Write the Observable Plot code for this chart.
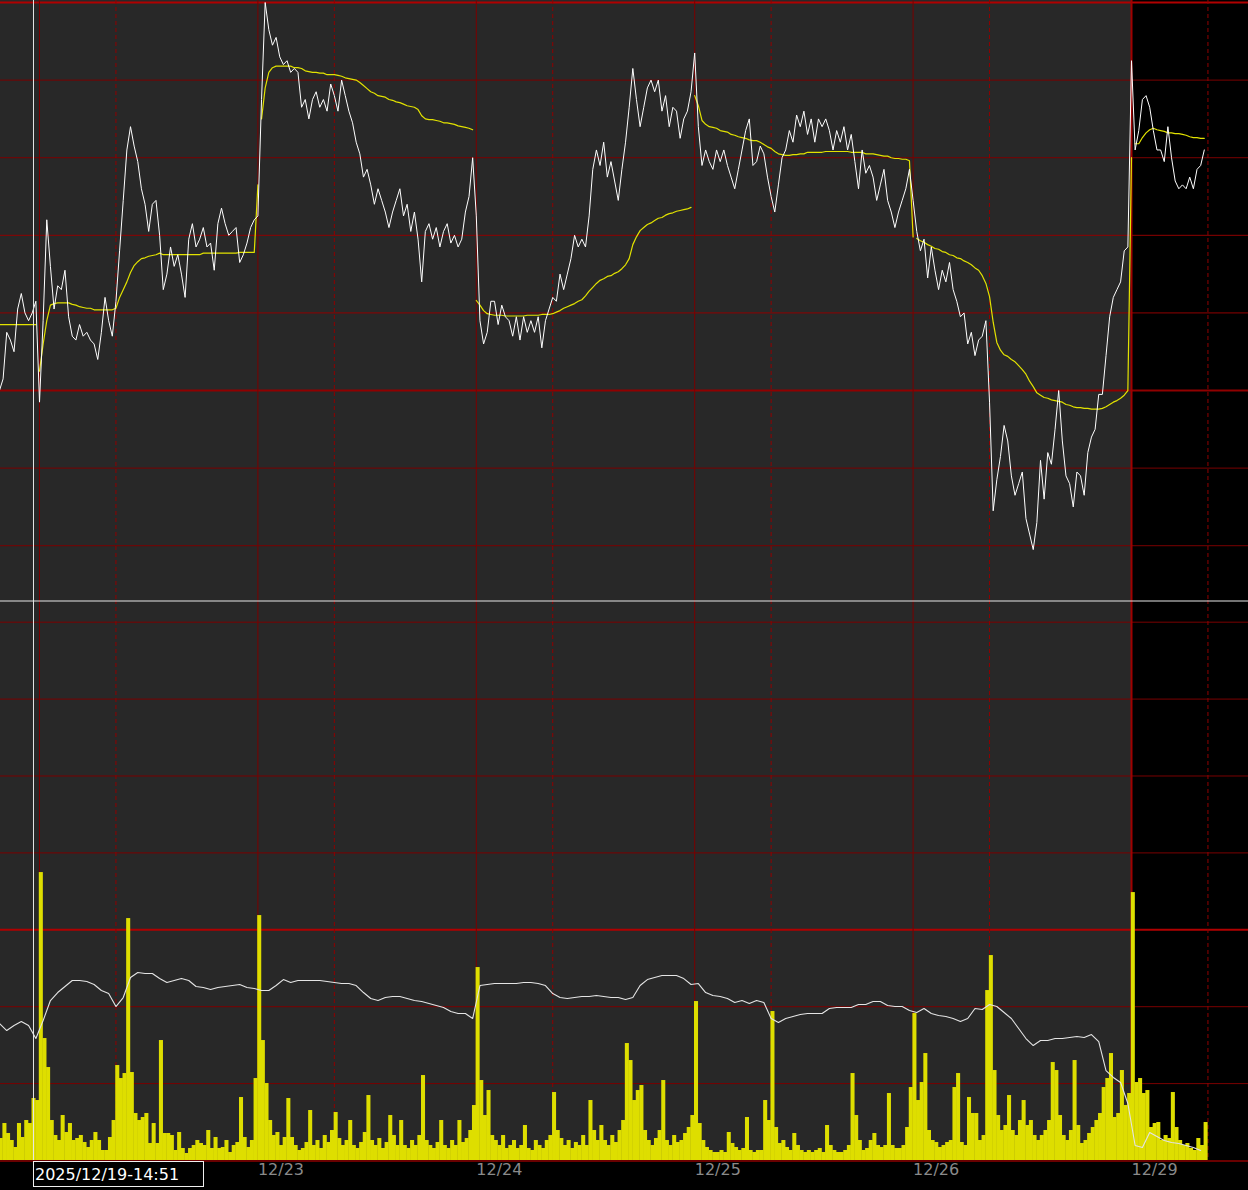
<!DOCTYPE html>
<html><head><meta charset="utf-8">
<script src="https://cdn.jsdelivr.net/npm/d3@7"></script>
<script src="https://cdn.jsdelivr.net/npm/@observablehq/plot@0.6"></script>
<style>
html,body{margin:0;padding:0;background:#000;}
#chart{width:1248px;}
#chart svg{display:block;}
</style></head><body><div id="chart"></div>
<script>
// 20-minute bars, trading hours counted from 12/22 day-session open
const price = [
50000,50015,50075,50065,50050,50105,50125,50100,50090,50100,
50115,49985,50090,50220,50160,50105,50135,50130,50155,50095,
50070,50065,50085,50070,50075,50065,50060,50040,50075,50120,
50090,50070,50115,50180,50245,50310,50340,50315,50295,50260,
50240,50205,50240,50245,50200,50130,50150,50185,50160,50175,
50150,50120,50195,50215,50185,50195,50210,50185,50190,50155,
50215,50235,50215,50200,50205,50210,50165,50175,50190,50210,
50220,50225,50375,50500,50465,50445,50455,50430,50420,50425,
50410,50415,50410,50365,50375,50350,50375,50385,50365,50375,
50360,50395,50380,50360,50400,50380,50360,50345,50320,50305,
50275,50285,50265,50240,50260,50245,50230,50210,50230,50245,
50260,50225,50240,50205,50230,50195,50140,50205,50215,50195,
50210,50185,50205,50215,50190,50200,50185,50195,50230,50250,
50300,50225,50090,50060,50075,50115,50115,50085,50110,50095,
50090,50070,50095,50065,50095,50075,50090,50075,50095,50055,
50090,50105,50120,50115,50150,50130,50150,50170,50200,50185,
50195,50185,50225,50285,50310,50290,50320,50275,50295,50270,
50245,50285,50320,50365,50415,50375,50340,50365,50390,50400,
50385,50400,50360,50380,50340,50365,50360,50325,50350,50360,
50385,50435,50340,50290,50310,50295,50285,50310,50295,50310,
50290,50275,50260,50285,50310,50335,50350,50290,50295,50315,
50305,50275,50250,50230,50265,50300,50310,50335,50320,50355,
50340,50360,50330,50350,50320,50350,50340,50350,50335,50310,
50335,50320,50340,50310,50330,50295,50260,50310,50280,50290,
50275,50245,50265,50285,50245,50230,50210,50230,50245,50260,
50285,50245,50205,50180,50195,50145,50185,50155,50130,50155,
50140,50165,50130,50115,50095,50100,50060,50075,50045,50065,
50070,50090,49985,49845,49885,49915,49955,49935,49890,49865,
49880,49895,49835,49815,49795,49830,49910,49860,49920,49905,
49950,50000,49935,49890,49880,49850,49895,49890,49865,49920,
49940,49950,49995,49995,50045,50095,50120,50130,50140,50180,
50185,50425,50310,50335,50375,50380,50365,50335,50310,50310,
50295,50340,50300,50270,50260,50265,50260,50275,50260,50285,
50290,50310
];
const vwap = [
50085,50085,50085,50085,50085,50085,50085,50085,50085,50085,
50085,50025,50060,50090,50110,50112,50113,50113,50113,50113,
50111,50110,50108,50107,50106,50106,50104,50104,50104,50104,
50104,50104,50106,50120,50130,50140,50152,50161,50166,50170,
50171,50173,50174,50175,50177,50175,50175,50175,50175,50175,
50175,50175,50175,50175,50175,50175,50177,50177,50177,50177,
50177,50177,50177,50177,50177,50177,50178,50178,50178,50178,
50178,50265,50350,50390,50410,50416,50418,50418,50418,50418,
50418,50416,50416,50415,50412,50411,50410,50410,50409,50409,
50407,50407,50407,50406,50405,50403,50402,50401,50400,50397,
50393,50389,50385,50383,50380,50379,50378,50375,50374,50372,
50371,50369,50367,50366,50365,50362,50354,50350,50349,50349,
50348,50347,50345,50345,50344,50343,50341,50340,50339,50338,
50336,50116,50110,50103,50099,50098,50097,50097,50097,50096,
50096,50096,50096,50096,50096,50097,50097,50097,50097,50098,
50098,50098,50099,50101,50103,50106,50108,50110,50112,50115,
50117,50122,50128,50133,50138,50142,50144,50147,50148,50151,
50153,50157,50162,50170,50188,50198,50206,50210,50214,50216,
50219,50222,50223,50226,50228,50229,50231,50232,50233,50234,
50236,50380,50367,50348,50343,50340,50339,50338,50335,50334,
50333,50330,50329,50327,50326,50325,50323,50322,50322,50320,
50317,50314,50312,50308,50305,50304,50303,50303,50304,50304,
50305,50305,50307,50307,50307,50307,50307,50308,50308,50308,
50308,50308,50308,50308,50307,50307,50307,50307,50305,50305,
50305,50304,50303,50302,50302,50300,50299,50299,50298,50298,
50296,50198,50196,50193,50191,50188,50186,50183,50182,50179,
50178,50175,50174,50171,50170,50167,50165,50162,50158,50155,
50148,50138,50121,50088,50062,50052,50046,50044,50040,50037,
50032,50027,50021,50012,50005,49997,49994,49991,49990,49988,
49987,49986,49985,49982,49981,49979,49978,49978,49977,49977,
49976,49976,49976,49977,49979,49982,49985,49987,49990,49994,
50000,50300,50318,50318,50326,50332,50336,50338,50336,50335,
50334,50332,50332,50331,50331,50330,50329,50327,50326,50326,
50325,50325
];
const volume = [
286,481,351,260,169,481,299,520,481,806,
780,3744,1586,1209,520,325,260,585,364,481,
260,286,325,234,169,260,364,260,130,130,
299,520,1235,1066,1131,3146,1144,611,520,559,
611,221,481,221,1560,351,351,325,130,364,
156,91,156,195,260,221,195,390,156,299,
156,169,260,104,195,234,819,299,169,260,
1066,3185,1560,1001,520,325,364,195,299,806,
299,195,130,156,234,650,195,260,156,325,
234,390,624,286,195,260,520,195,156,234,
364,845,260,195,286,156,234,585,325,195,
520,195,156,260,195,325,1105,260,195,156,
234,520,195,156,260,195,520,234,286,390,
715,2509,1040,585,910,325,260,195,325,156,
195,260,156,195,455,156,130,260,195,156,
260,325,884,390,286,195,260,156,234,195,
325,195,780,390,260,455,260,195,325,234,
390,520,1521,1300,780,910,975,390,260,195,
286,390,1040,260,195,325,234,260,351,429,
585,2067,481,260,169,130,104,104,130,104,
364,221,169,130,156,559,130,104,130,130,
780,520,1937,429,221,260,169,130,351,195,
130,104,130,104,130,156,104,455,195,130,
104,104,130,195,1131,585,260,130,156,260,
351,195,169,195,871,195,156,156,195,429,
949,1911,780,1014,1391,390,260,234,169,195,
234,260,949,1131,234,195,819,611,611,260,
325,2210,2665,1170,585,390,455,845,390,325,
520,780,455,520,325,260,325,390,520,1274,
1170,585,325,260,390,1300,455,221,260,351,
429,520,611,949,1066,1391,559,611,1170,715,
871,3484,1014,1066,871,910,429,481,494,260,
325,286,884,429,260,195,221,156,130,286,
195,494
];
// volume average line, one reading every 40 minutes
const volumeAvg = [
1781,1690,1755,1807,1755,1586,1820,2080,2184,2262,
2340,2340,2327,2288,2210,2171,2002,2119,2379,2444,
2431,2431,2366,2314,2340,2366,2340,2262,2249,2223,
2249,2262,2275,2288,2249,2236,2210,2210,2275,2353,
2314,2340,2340,2340,2340,2327,2314,2301,2301,2275,
2184,2106,2080,2119,2132,2132,2106,2080,2067,2041,
2015,1989,1937,1911,1911,1846,2275,2288,2301,2301,
2301,2301,2314,2314,2301,2275,2171,2119,2106,2119,
2132,2132,2145,2132,2119,2119,2093,2119,2275,2353,
2379,2405,2405,2405,2366,2288,2301,2184,2145,2132,
2106,2054,2080,2041,2080,2054,1846,1794,1846,1872,
1898,1911,1911,1911,1976,1989,1989,1989,2028,2028,
2067,2067,2015,2002,2002,1950,1924,1976,1911,1885,
1872,1846,1807,1846,1976,1963,2028,2002,1924,1846,
1716,1586,1495,1560,1560,1586,1586,1599,1612,1599,
1638,1547,1170,1080,1014,741,195,169,364,312,
260,234,221,195,169,130
];
// tick labels at each day-session open; the first is hidden under the cursor label
const dayLabels = ["12/22","12/23","12/24","12/25","12/26","12/29"];
const dayStartHours = [0,20,40,60,80,100];
const nightStartHours = [7,27,47,67,87,107];
const priceGrid = [49800,49900,50000,50100,50200,50300,50400,50500];
const volumeGrid = [1000,2000,3000,4000,5000,6000,7000];
const crosshairHour = -0.55;
const crosshairLabel = "2025/12/19-14:51";

const barHours = 1/3;
const firstHour = -11/3;
const xDomain = [-3.5714, 110.7143];
const priceDomain = [49729.4, 50502.6];
const volumeDomain = [0, 7282];
const todayStart = 100;

const bars = price.map((p, i) => {
  const t = firstHour + i * barHours;
  return {t, price: p, vwap: vwap[i], vol: volume[i], session: Math.floor(t / 20)};
});
const avgLine = volumeAvg.map((v, k) => ({t: firstHour + 2 * k * barHours, v}));
const labelData = dayLabels.map((label, i) => ({t: dayStartHours[i], label}))
  .filter(d => d.t > crosshairHour + 16);

const GRID = "#7a0000", GRID_B = "#900000";
const font = "DejaVu Sans, Verdana, sans-serif";

function verticalGrid() {
  return [
    Plot.ruleX(dayStartHours.filter(d => d !== todayStart), {stroke: GRID, strokeWidth: 1}),
    Plot.ruleX(nightStartHours, {stroke: GRID_B, strokeWidth: 1, strokeDasharray: "4,3"}),
    Plot.ruleX([todayStart], {stroke: "#a00000", strokeWidth: 2})
  ];
}

const upper = Plot.plot({
  width: 1248, height: 600, margin: 0,
  style: {background: "#000", fontFamily: font},
  x: {domain: xDomain, axis: null},
  y: {domain: priceDomain, axis: null},
  marks: [
    Plot.rect([{a: xDomain[0], b: todayStart}], {x1: "a", x2: "b", y1: priceDomain[0], y2: priceDomain[1], fill: "#282828"}),
    Plot.ruleY(priceGrid.filter(d => ![50000, 50100, 50200, 50500].includes(d)), {stroke: GRID, strokeWidth: 1}),
    Plot.ruleY([50100, 50200], {stroke: GRID_B, strokeWidth: 1}),
    Plot.ruleY([50000], {stroke: GRID_B, strokeWidth: 2}),
    Plot.ruleY([50500], {stroke: "#b00000", strokeWidth: 2}),
    ...verticalGrid(),
    Plot.line(bars, {x: "t", y: "vwap", z: "session", stroke: "#e2e200", strokeWidth: 1.2}),
    Plot.line(bars, {x: "t", y: "price", stroke: "#ffffff", strokeWidth: 1}),
    Plot.ruleX([crosshairHour], {stroke: "#e6e6e6", strokeWidth: 1})
  ]
});

const lower = Plot.plot({
  width: 1248, height: 590, marginTop: 0, marginBottom: 30, marginLeft: 0, marginRight: 0,
  style: {background: "#000", fontFamily: font},
  x: {domain: xDomain, axis: null},
  y: {domain: volumeDomain, axis: null},
  marks: [
    Plot.rect([{a: xDomain[0], b: todayStart}], {x1: "a", x2: "b", y1: volumeDomain[0], y2: volumeDomain[1], fill: "#282828"}),
    Plot.ruleY(volumeGrid.filter(d => d !== 3000), {stroke: GRID, strokeWidth: 1}),
    Plot.ruleY([3000], {stroke: "#b00000", strokeWidth: 2}),
    ...verticalGrid(),
    Plot.rectY(bars, {x1: "t", x2: d => d.t + barHours, y: "vol", fill: "#dede00", insetLeft: -0.2, insetRight: -0.2}),
    Plot.line(avgLine, {x: "t", y: "v", stroke: "#e4e4e4", strokeWidth: 1.1}),
    Plot.ruleY([0], {stroke: "#d00000", strokeWidth: 1, dy: 0.5}),
    Plot.ruleY([volumeDomain[1]], {stroke: "#e6e6e6", strokeWidth: 1, dy: 0.5}),
    Plot.ruleX([crosshairHour], {stroke: "#e6e6e6", strokeWidth: 1}),
    Plot.text(labelData, {x: "t", frameAnchor: "bottom", dy: 14, text: "label", textAnchor: "start", fill: "#8a8a8a", fontSize: 16}),
    (index, scales, values, dimensions) => {
      const x = scales.x(crosshairHour);
      const y0 = dimensions.height - dimensions.marginBottom;
      const g = d3.create("svg:g");
      g.append("rect").attr("x", x + 0.5).attr("y", y0 + 1.5).attr("width", 170).attr("height", 25)
        .attr("fill", "#000").attr("stroke", "#f0f0f0").attr("stroke-width", 1);
      g.append("text").attr("x", x + 2).attr("y", y0 + 20).attr("fill", "#ffffff")
        .attr("text-anchor", "start")
        .attr("font-size", 16).attr("font-family", font).text(crosshairLabel);
      return g.node();
    }
  ]
});

document.getElementById("chart").append(upper, lower);
</script>
</body></html>
